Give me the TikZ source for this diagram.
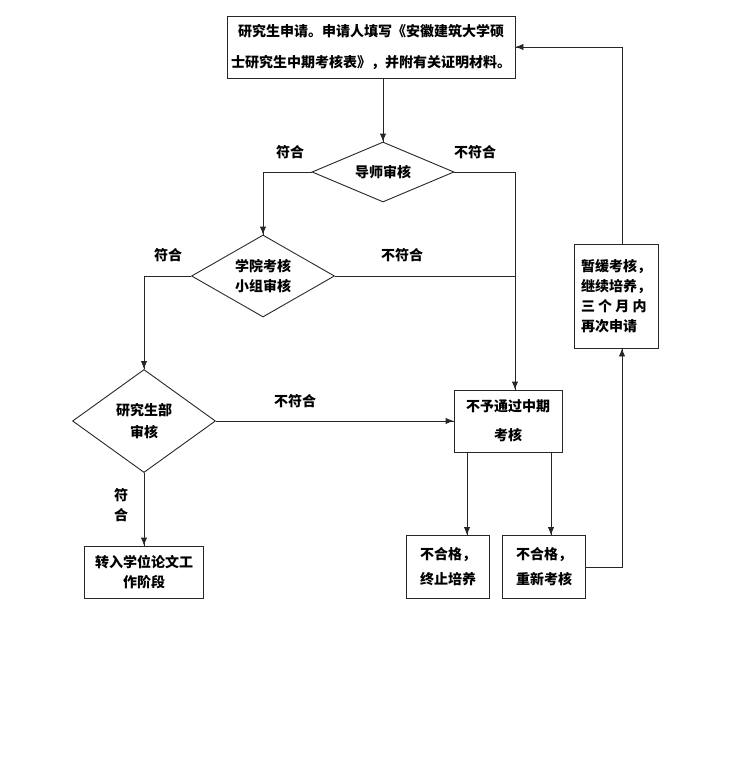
\documentclass[tikz,border=0pt]{standalone}
\usepackage{fontspec}
\usepackage{tikz}
\newfontfamily\cjk{Noto Sans CJK SC}
\usetikzlibrary{arrows.meta}
\usetikzlibrary{decorations.markings}
\usetikzlibrary{shapes.geometric}
\tikzset{->/.style = {decoration={markings,
                                  mark=at position 1 with {\arrow{Latex[length=8pt, width=6.5pt]}}},
                      postaction={decorate}}}
\tikzset{box/.style = {draw, rectangle, inner sep = 0, align = center,
                       font = \cjk\bfseries\fontsize{14}{20}\selectfont}}
\tikzset{dia/.style = {draw, diamond, aspect = 1.75, inner sep = 0, align = center,
                       font = \cjk\bfseries\fontsize{14}{20}\selectfont}}
\tikzset{lbl/.style = {inner sep = 0, font = \cjk\bfseries\fontsize{14}{20}\selectfont}}

\begin{document}
\begin{tikzpicture}[x=1pt, y=-1pt, line width=0.9pt, draw=black!85]
      \useasboundingbox (0, 0) rectangle (745, 771);

      \node [box, minimum width = 288, minimum height = 62] (apply) at (371, 47)
            {研究生申请。申请人填写《安徽建筑大学硕\\[11pt]士研究生中期考核表》，并附有关证明材料。};
      \node [dia, minimum width = 142, minimum height = 60] (tutor) at (383, 172) {导师审核};
      \node [dia, minimum width = 143, minimum height = 82] (college) at (263, 276) {学院考核\\小组审核};
      \node [dia, minimum width = 143, minimum height = 103] (grad) at (144, 421) {研究生部\\[2pt]审核};
      \node [box, minimum width = 108, minimum height = 62] (reject) at (508, 421) {不予通过中期\\[9pt]考核};
      \node [box, minimum width = 119, minimum height = 52] (thesis) at (144, 572) {转入学位论文工\\作阶段};
      \node [box, minimum width = 83, minimum height = 63] (stop) at (448, 567) {不合格，\\[5pt]终止培养};
      \node [box, minimum width = 83, minimum height = 63] (retry) at (544, 567) {不合格，\\[5pt]重新考核};
      \node [box, align = left, minimum width = 84, minimum height = 104] (defer) at (616, 296)
            {暂缓考核，\\继续培养，\\三 个 月 内\\再次申请};

      \coordinate (join) at ([xshift = 7] reject.north);

      \draw [->] (apply.south -| tutor.north) -- (tutor.north);
      \draw [->] (tutor.west) -| (college.north);
      \draw [->] (tutor.east) -| (join);
      \draw (college.east) -- (college.east -| join);
      \draw [->] (college.west) -| (grad.north);
      \draw [->] (grad.east) -- (reject.west);
      \draw [->] (grad.south) -- (thesis.north);
      \draw [->] ([xshift = -41] reject.south) -- ([xshift = -41] reject.south |- stop.north);
      \draw [->] ([xshift = 43] reject.south) -- ([xshift = 43] reject.south |- retry.north);
      \draw [->] (retry.east) -| ([xshift = 6] defer.south);
      \draw [->] ([xshift = 6] defer.north) |- (apply.east);

      \node [lbl] (yes1) at (290, 152) {符合};
      \node [lbl] (no1) at (475, 152) {不符合};
      \node [lbl] (yes2) at (168, 255) {符合};
      \node [lbl] (no2) at (402, 255) {不符合};
      \node [lbl] (no3) at (295, 401) {不符合};
      \node [lbl, align = center] (yes3) at (121, 505) {符\\合};
    \end{tikzpicture}
\end{document}
